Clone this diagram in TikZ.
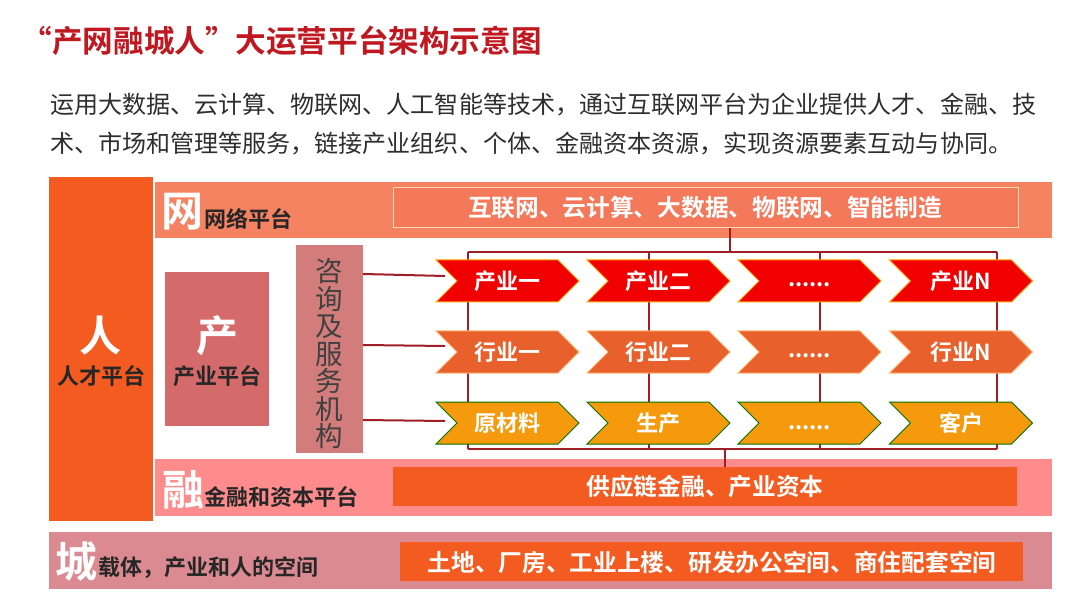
\documentclass[tikz,border=0pt]{standalone}
\usepackage{fontspec}
\usetikzlibrary{shapes.symbols}
\setmainfont{Noto Sans CJK SC}[BoldFont={* Bold}]
\definecolor{orangeA}{HTML}{F45B20}
\definecolor{bandNet}{HTML}{F58260}
\definecolor{innerNet}{HTML}{F4785A}
\definecolor{roseA}{HTML}{D46A6A}
\definecolor{roseB}{HTML}{D27C7C}
\definecolor{bandFin}{HTML}{FF8C8C}
\definecolor{bandCity}{HTML}{DA8A90}
\definecolor{chevRed}{HTML}{F00000}
\definecolor{chevMid}{HTML}{E8602C}
\definecolor{chevOrg}{HTML}{F59A0C}
\definecolor{lineRed}{HTML}{A01E28}
\definecolor{titleRed}{HTML}{C01820}
\definecolor{bodyInk}{HTML}{2E2E2E}
\tikzset{
  x=1pt,y=-1pt,
  chev/.style={shape=signal,signal to=east,signal from=west,signal pointer angle=90,
    minimum width=143pt,minimum height=42pt,inner sep=0pt,outer sep=0pt,line width=1pt,
    font=\bfseries\fontsize{22}{22}\selectfont,text=white},
  chevA/.style={chev,fill=chevRed,draw=orange!70!yellow},
  chevB/.style={chev,fill=chevMid,draw=orange!55!white},
  chevC/.style={chev,fill=chevOrg,draw=green!45!black},
  link/.style={draw=lineRed,line width=2pt},
  bigw/.style={font=\bfseries\fontsize{42}{42}\selectfont,text=white,inner sep=0pt},
  lab/.style={font=\bfseries\fontsize{22}{22}\selectfont,text=black!85,inner sep=0pt,anchor=west},
  whitelab/.style={font=\bfseries\fontsize{23.7}{24}\selectfont,text=white,inner sep=0pt},
}
\newcommand{\rectnode}[6]{% name, x1,y1,x2,y2, style
  \node[inner sep=0pt,outer sep=0pt,minimum width=\dimexpr#4pt-#2pt\relax,minimum height=\dimexpr#5pt-#3pt\relax,#6] (#1) at ({(#2+#4)/2},{(#3+#5)/2}) {};}
\newcommand{\dotstxt}{\raisebox{0pt}[12pt][0pt]{......}}
\newcommand{\fwc}{\char"FF0C\relax}
\begin{document}
\begin{tikzpicture}
\useasboundingbox (0,0) rectangle (1080,604);
\fill[white] (0,0) rectangle (1080,604);
\node[anchor=west,inner sep=0pt,text=titleRed,font=\bfseries\fontsize{30.6}{30}\selectfont] (title) at (21.4,41) {“产网融城人”大运营平台架构示意图};
\node[anchor=west,inner sep=0pt,text=bodyInk,font=\fontsize{24.05}{24}\selectfont] (l1) at (50,105) {运用大数据、云计算、物联网、人工智能等技术\fwc 通过互联网平台为企业提供人才、金融、技};
\node[anchor=west,inner sep=0pt,text=bodyInk,font=\fontsize{24.05}{24}\selectfont] (l2) at (50,144) {术、市场和管理等服务\fwc 链接产业组织、个体、金融资本资源\fwc 实现资源要素互动与协同。};
% blocks
\rectnode{ren}{49}{177}{153}{521}{fill=orangeA}
\rectnode{net}{155}{182}{1052}{238}{fill=bandNet}
\rectnode{netin}{393}{188}{1018}{228}{fill=innerNet,draw=white!70!orange,line width=1pt}
\rectnode{chan}{165}{272}{269}{426}{fill=roseA}
\rectnode{zixun}{296}{245}{363}{453}{fill=roseB}
\rectnode{fin}{155}{459}{1052}{516}{fill=bandFin}
\rectnode{finin}{393}{467}{1017}{506}{fill=orangeA}
\rectnode{city}{49}{532}{1052}{589}{fill=bandCity}
\rectnode{cityin}{400}{542}{1023}{581}{fill=orangeA}
% helper points
\coordinate (tl) at (468,252); \coordinate (tr) at (997,252);
\coordinate (bl) at (468,449); \coordinate (br) at (997,449);
\coordinate (t2) at (649,252); \coordinate (b2) at (649,449);
\coordinate (t3) at (820,252); \coordinate (b3) at (820,449);
\coordinate (tm) at (730,252); \coordinate (bm) at (724.5,449);
\coordinate (e1) at (445,276); \coordinate (e2) at (445,346); \coordinate (e3) at (445,421);
\coordinate (s1) at (363,274); \coordinate (s2) at (363,345); \coordinate (s3) at (363,420);
% connectors
\draw[link] (tl) -- (tr);
\draw[link] (bl) -- (br);
\draw[link] (tl) -- (bl);
\draw[link] (tr) -- (br);
\draw[link] (t2) -- (b2);
\draw[link] (t3) -- (b3);
\draw[link] (netin.south -| tm) -- (tm);
\draw[link] (bm) -- (finin.north -| bm);
\draw[link] (s1) -- (e1);
\draw[link] (s2) -- (e2);
\draw[link] (s3) -- (e3);
% chevrons
\foreach \n/\cx/\a/\b/\c in {1/507.5/产业一/行业一/原材料,2/658.5/产业二/行业二/生产,3/809.5/\dotstxt/\dotstxt/\dotstxt,4/961/产业N/行业N/客户}{
  \node[chevA] (ca\n) at (\cx,281) {\a};
  \node[chevB] (cb\n) at (\cx,352) {\b};
  \node[chevC] (cc\n) at (\cx,423) {\c};
}
% texts
\node[whitelab] (netT) at (705,208) {互联网、云计算、大数据、物联网、智能制造};
\node[whitelab] (finT) at (705,487) {供应链金融、产业资本};
\node[whitelab] (cityT) at (712,562) {土地、厂房、工业上楼、研发办公空间、商住配套空间};
\node[bigw] (renB) at (100,336) {人};
\node[lab,anchor=center] (renL) at (101,376) {人才平台};
\node[bigw] (chanB) at (217,336) {产};
\node[lab,anchor=center] (chanL) at (217,376) {产业平台};
\node[bigw,anchor=west] (netB) at (161,212) {网};
\node[lab] (netL) at (204,219) {网络平台};
\node[bigw,anchor=west] (finB) at (162,490) {融};
\node[lab] (finL) at (204,497) {金融和资本平台};
\node[bigw,anchor=west] (cityB) at (55,562) {城};
\node[lab] (cityL) at (98,568) {载体\fwc 产业和人的空间};
\node[inner sep=0pt,text=black!75,align=center,font=\fontsize{27.5}{27.5}\selectfont,text width=32pt] (zixunT) at (329.5,354) {咨\\询\\及\\服\\务\\机\\构};
\end{tikzpicture}
\end{document}
